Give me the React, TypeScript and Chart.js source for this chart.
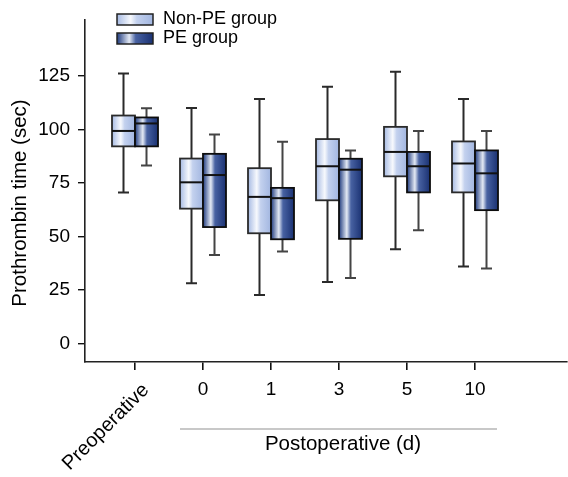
import React, { useEffect, useRef } from 'react';
import { Chart, registerables } from 'chart.js';

Chart.register(...registerables);

// ---- Data ----
const categories = ['Preoperative', '0', '1', '3', '5', '10'];
const seriesNames = ['Non-PE group', 'PE group'];

const nonPeMin = [70.6, 28.1, 22.7, 28.7, 44.0, 36.0];
const nonPeQ1 = [92.1, 63.0, 51.5, 66.9, 78.1, 70.6];
const nonPeMedian = [99.3, 75.3, 68.5, 82.8, 89.5, 84.1];
const nonPeQ3 = [106.5, 86.4, 81.9, 95.5, 101.2, 94.4];
const nonPeMax = [126.1, 110.0, 114.2, 119.9, 127.0, 114.2];

const peMin = [83.2, 41.3, 43.0, 30.6, 52.9, 35.0];
const peQ1 = [92.1, 54.4, 48.7, 48.9, 70.6, 62.3];
const peMedian = [102.8, 78.7, 67.9, 81.2, 82.8, 79.5];
const peQ3 = [105.6, 88.6, 72.7, 86.3, 89.5, 90.2];
const peMax = [109.9, 97.6, 94.2, 90.2, 99.3, 99.3];

const yTicks = [0, 25, 50, 75, 100, 125];
const yTitle = 'Prothrombin time (sec)';
const xGroupTitle = 'Postoperative (d)';

const FONT = '"Liberation Sans", Arial, Helvetica, sans-serif';

const nonPeStops: [number, string][] = [
  [0, '#a6bae3'],
  [0.38, '#f7f9fd'],
  [0.55, '#c3d1ee'],
  [1, '#a2b6e0'],
];
const peStops: [number, string][] = [
  [0, '#1f3a7e'],
  [0.34, '#e3e9f4'],
  [0.52, '#4862a2'],
  [1, '#1a3172'],
];

export default function App() {
  const ref = useRef<HTMLCanvasElement>(null);

  useEffect(() => {
    const canvas = ref.current;
    if (!canvas) return;

    const groups = [
      { min: nonPeMin, q1: nonPeQ1, med: nonPeMedian, q3: nonPeQ3, max: nonPeMax, stops: nonPeStops },
      { min: peMin, q1: peQ1, med: peMedian, q3: peQ3, max: peMax, stops: peStops },
    ];

    const grad = (ctx: CanvasRenderingContext2D, l: number, r: number, stops: [number, string][]) => {
      const g = ctx.createLinearGradient(l, 0, r, 0);
      stops.forEach(([o, c]) => g.addColorStop(o, c));
      return g;
    };

    const boxPlugin = {
      id: 'boxPlot',
      afterDatasetsDraw(chart: any) {
        const ctx: CanvasRenderingContext2D = chart.ctx;
        const ys = chart.scales.y;
        ctx.save();
        // whiskers
        groups.forEach((g, di) => {
          const meta = chart.getDatasetMeta(di);
          meta.data.forEach((el: any, i: number) => {
            const { x } = el.getProps(['x'], true);
            const yTop = ys.getPixelForValue(g.max[i]);
            const yBot = ys.getPixelForValue(g.min[i]);
            const cap = 11;
            ctx.strokeStyle = di === 0 ? '#2a2a2a' : '#444444';
            ctx.lineWidth = 2;
            ctx.beginPath();
            ctx.moveTo(x, yTop);
            ctx.lineTo(x, yBot);
            ctx.moveTo(x - cap / 2, yTop);
            ctx.lineTo(x + cap / 2, yTop);
            ctx.moveTo(x - cap / 2, yBot);
            ctx.lineTo(x + cap / 2, yBot);
            ctx.stroke();
          });
        });
        // boxes
        groups.forEach((g, di) => {
          const meta = chart.getDatasetMeta(di);
          meta.data.forEach((el: any, i: number) => {
            const { x, width } = el.getProps(['x', 'width'], true);
            const l = x - width / 2;
            const r = x + width / 2;
            const yq3 = ys.getPixelForValue(g.q3[i]);
            const yq1 = ys.getPixelForValue(g.q1[i]);
            const ym = ys.getPixelForValue(g.med[i]);
            ctx.fillStyle = grad(ctx, l, r, g.stops);
            ctx.fillRect(l, yq3, r - l, yq1 - yq3);
            ctx.strokeStyle = di === 0 ? '#2a2a2a' : '#0d0d0d';
            ctx.lineWidth = 1.8;
            ctx.strokeRect(l, yq3, r - l, yq1 - yq3);
            ctx.beginPath();
            ctx.strokeStyle = '#111111';
            ctx.lineWidth = 2;
            ctx.moveTo(l, ym);
            ctx.lineTo(r, ym);
            ctx.stroke();
          });
        });
        ctx.restore();
      },
      afterDraw(chart: any) {
        const ctx: CanvasRenderingContext2D = chart.ctx;
        const xs = chart.scales.x;
        ctx.save();
        ctx.fillStyle = '#000';
        // y title
        ctx.save();
        ctx.translate(20, 203);
        ctx.rotate(-Math.PI / 2);
        ctx.font = `20.5px ${FONT}`;
        ctx.textAlign = 'center';
        ctx.textBaseline = 'middle';
        ctx.fillText(yTitle, 0, 0);
        ctx.restore();
        // rotated first category label
        ctx.save();
        const px0 = xs.getPixelForValue(0);
        ctx.translate(px0 + 11, 387);
        ctx.rotate(-Math.PI / 4);
        ctx.font = `20px ${FONT}`;
        ctx.textAlign = 'right';
        ctx.textBaseline = 'middle';
        ctx.fillText(categories[0], 0, 0);
        ctx.restore();
        // postoperative bracket line + title
        const pxA = xs.getPixelForValue(1);
        const pxB = xs.getPixelForValue(categories.length - 1);
        ctx.strokeStyle = '#c8c8c8';
        ctx.lineWidth = 2;
        ctx.beginPath();
        ctx.moveTo(pxA - 23, 429);
        ctx.lineTo(pxB + 22, 429);
        ctx.stroke();
        ctx.font = `20.5px ${FONT}`;
        ctx.textAlign = 'center';
        ctx.textBaseline = 'middle';
        ctx.fillText(xGroupTitle, (pxA + pxB) / 2 + 4, 444);
        // legend
        const lx = 117;
        const lys = [14, 33];
        seriesNames.forEach((name, k) => {
          const y0 = lys[k];
          ctx.fillStyle = grad(ctx, lx, lx + 36, groups[k].stops);
          ctx.fillRect(lx, y0, 36, 11);
          ctx.strokeStyle = '#222';
          ctx.lineWidth = 1.5;
          ctx.strokeRect(lx, y0, 36, 11);
          ctx.fillStyle = '#000';
          ctx.font = `18px ${FONT}`;
          ctx.textAlign = 'left';
          ctx.textBaseline = 'middle';
          ctx.fillText(name, 163, y0 + 5.5);
        });
        ctx.restore();
      },
    };

    const chart = new Chart(canvas, {
      type: 'bar',
      data: {
        datasets: [
          {
            label: seriesNames[0],
            data: categories.map((_, i) => ({ x: i, y: [nonPeQ1[i], nonPeQ3[i]] })) as any,
            backgroundColor: 'rgba(0,0,0,0)',
            borderWidth: 0,
          },
          {
            label: seriesNames[1],
            data: categories.map((_, i) => ({ x: i, y: [peQ1[i], peQ3[i]] })) as any,
            backgroundColor: 'rgba(0,0,0,0)',
            borderWidth: 0,
          },
        ],
      },
      options: {
        responsive: false,
        animation: false,
        devicePixelRatio: 1,
        layout: { padding: { top: 15, right: 1, left: 0, bottom: 0 } },
        categoryPercentage: 46 / 68,
        barPercentage: 1,
        plugins: {
          legend: { display: false },
          tooltip: { enabled: false },
        },
        scales: {
          x: {
            type: 'linear',
            offset: false,
            min: -50 / 68,
            max: -50 / 68 + 482 / 68,
            afterBuildTicks: (s: any) => {
              s.ticks = categories.map((_, i) => ({ value: i }));
            },
            afterFit: (s: any) => {
              s.height = 115;
            },
            grid: {
              offset: false,
              drawOnChartArea: false,
              drawTicks: true,
              tickLength: 8,
              color: '#111',
              lineWidth: 1.6,
            },
            border: { display: true, color: '#222', width: 1.6 },
            ticks: {
              autoSkip: false,
              maxRotation: 0,
              minRotation: 0,
              padding: 8,
              color: '#000',
              font: { family: FONT, size: 19 },
              callback: (v: any) => (v === 0 ? '' : categories[v]),
            },
          },
          y: {
            type: 'linear',
            min: -8.63,
            max: 151.4,
            afterBuildTicks: (s: any) => {
              s.ticks = yTicks.map((v) => ({ value: v }));
            },
            afterFit: (s: any) => {
              s.width = 85;
            },
            grid: { drawOnChartArea: false, drawTicks: true, tickLength: 7, color: '#111', lineWidth: 1.4 },
            border: { display: true, color: '#222', width: 1.6 },
            ticks: {
              padding: 8,
              color: '#000',
              font: { family: FONT, size: 19 },
            },
          },
        },
      } as any,
      plugins: [boxPlugin],
    });

    return () => chart.destroy();
  }, []);

  return (
    <canvas
      ref={ref}
      width={568}
      height={477}
      style={{ position: 'fixed', left: 0, top: 0, width: 568, height: 477 }}
    />
  );
}
